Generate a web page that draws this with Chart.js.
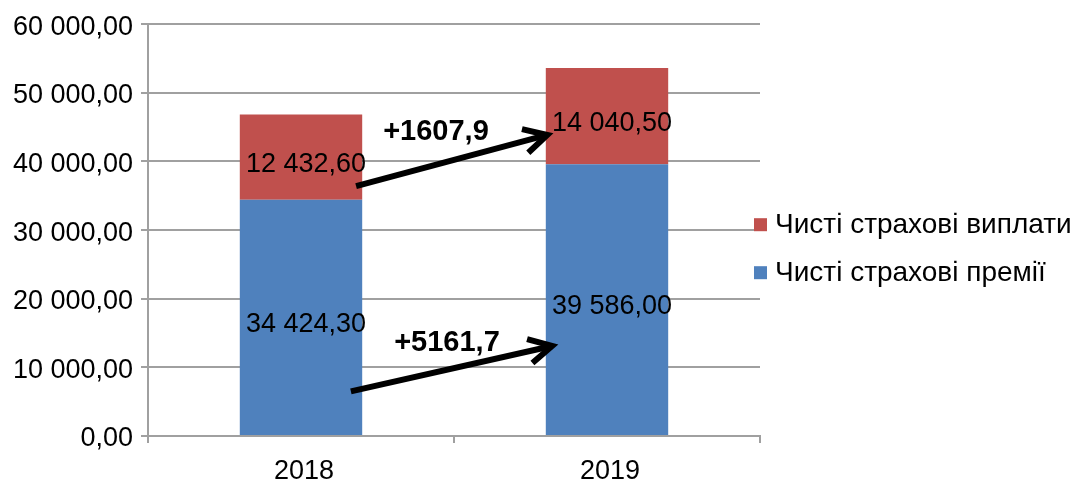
<!DOCTYPE html>
<html>
<head>
<meta charset="utf-8">
<script src="https://cdn.jsdelivr.net/npm/chart.js@4.4.0/dist/chart.umd.min.js"></script>
<style>
html, body { margin: 0; padding: 0; background: #fff; }
#wrap { width: 1074px; height: 482px; }
</style>
</head>
<body>
<div id="wrap"><canvas id="chart" width="1074" height="482"></canvas></div>
<script>
const years = ['2018', '2019'];
const premiums = [34424.3, 39586.0];   // Чисті страхові премії
const payouts = [12432.6, 14040.5];    // Чисті страхові виплати
const yTicks = [0, 10000, 20000, 30000, 40000, 50000, 60000];

// growth arrows drawn between the bars, in axis units [category index, value]
const arrowStart = [[0.18, 36410], [0.163, 6506]];
const arrowEnd = [[0.825, 44100], [0.841, 13320]];
const growthAt = [[0.441, 43120], [0.477, 12385]];

const FONT = '"Liberation Sans", Arial, sans-serif';
const BLUE = '#4f81bd';
const RED = '#c0504d';
const GRID = '#a0a0a0';

function fmt(v) {
    const parts = v.toFixed(2).split('.');
    return parts[0].replace(/\B(?=(\d{3})+(?!\d))/g, ' ') + ',' + parts[1];
}

function growthText(series) {
    return '+' + (series[1] - series[0]).toFixed(1).replace('.', ',');
}

// value labels centred in each stacked segment
const barLabels = {
    id: 'barLabels',
    afterDatasetsDraw(chart) {
        const ctx = chart.ctx;
        ctx.save();
        ctx.font = '27px ' + FONT;
        ctx.fillStyle = '#000';
        ctx.textAlign = 'center';
        ctx.textBaseline = 'alphabetic';
        chart.data.datasets.forEach((ds, i) => {
            chart.getDatasetMeta(i).data.forEach((bar, j) => {
                const mid = (bar.y + bar.base) / 2;
                ctx.fillText(fmt(ds.data[j]), bar.x + 5, mid + 14.5);
            });
        });
        ctx.restore();
    }
};

function drawArrow(ctx, x1, y1, x2, y2) {
    const a = Math.atan2(y2 - y1, x2 - x1);
    const head = 26;
    const spread = 0.49;
    // pull the vertex back so the mitred tip lands on (x2, y2)
    const back = (ctx.lineWidth / 2) / Math.sin(spread);
    const vx = x2 - back * Math.cos(a);
    const vy = y2 - back * Math.sin(a);
    ctx.beginPath();
    ctx.moveTo(x1, y1);
    ctx.lineTo(vx, vy);
    ctx.stroke();
    ctx.beginPath();
    ctx.moveTo(vx - head * Math.cos(a - spread), vy - head * Math.sin(a - spread));
    ctx.lineTo(vx, vy);
    ctx.lineTo(vx - head * Math.cos(a + spread), vy - head * Math.sin(a + spread));
    ctx.stroke();
}

const growthArrows = {
    id: 'growthArrows',
    afterDatasetsDraw(chart) {
        const ctx = chart.ctx;
        const xs = chart.scales.x;
        const ys = chart.scales.y;
        const texts = [growthText(payouts), growthText(premiums)];
        ctx.save();
        ctx.strokeStyle = '#000';
        ctx.lineWidth = 6;
        ctx.lineCap = 'butt';
        ctx.lineJoin = 'miter';
        arrowStart.forEach((s, k) => {
            const e = arrowEnd[k];
            drawArrow(ctx,
                xs.getPixelForValue(s[0]), ys.getPixelForValue(s[1]),
                xs.getPixelForValue(e[0]), ys.getPixelForValue(e[1]));
        });
        ctx.font = 'bold 29px ' + FONT;
        ctx.fillStyle = '#000';
        ctx.textAlign = 'center';
        ctx.textBaseline = 'alphabetic';
        growthAt.forEach((p, k) => {
            ctx.fillText(texts[k], xs.getPixelForValue(p[0]), ys.getPixelForValue(p[1]));
        });
        ctx.restore();
    }
};

// legend on the right, top series first
const sideLegend = {
    id: 'sideLegend',
    afterDraw(chart) {
        const ctx = chart.ctx;
        const area = chart.chartArea;
        const items = chart.data.datasets.slice().reverse();
        ctx.save();
        ctx.font = '28px ' + FONT;
        ctx.textAlign = 'left';
        ctx.textBaseline = 'alphabetic';
        items.forEach((ds, k) => {
            const top = area.top + 194 + k * 48;
            ctx.fillStyle = ds.backgroundColor;
            ctx.fillRect(area.right - 6, top, 13, 13);
            ctx.fillStyle = '#000';
            ctx.fillText(ds.label, area.right + 15, top + 15);
        });
        ctx.restore();
    }
};

const ctx = document.getElementById('chart').getContext('2d');
const chart = new Chart(ctx, {
    type: 'bar',
    data: {
        labels: years,
        datasets: [
            {
                label: 'Чисті страхові премії',
                data: premiums,
                backgroundColor: BLUE,
                categoryPercentage: 1,
                barPercentage: 0.4
            },
            {
                label: 'Чисті страхові виплати',
                data: payouts,
                backgroundColor: RED,
                categoryPercentage: 1,
                barPercentage: 0.4
            }
        ]
    },
    options: {
        responsive: false,
        animation: false,
        events: [],
        layout: { padding: { left: 0, right: 314, top: 24, bottom: 0 } },
        plugins: {
            legend: { display: false },
            tooltip: { enabled: false }
        },
        scales: {
            x: {
                stacked: true,
                afterFit(s) { s.height = 46; },
                ticks: { font: { family: FONT, size: 27 }, color: '#000', padding: 12, labelOffset: 3 },
                grid: { offset: true, drawOnChartArea: false, color: GRID, lineWidth: 2, tickLength: 7 },
                border: { color: GRID, width: 2 }
            },
            y: {
                stacked: true,
                min: 0,
                max: 60000,
                afterFit(s) { s.width = 148; },
                afterBuildTicks(s) { s.ticks = yTicks.map(v => ({ value: v })); },
                ticks: {
                    font: { family: FONT, size: 27 },
                    color: '#000',
                    padding: 8,
                    labelOffset: 3,
                    callback: v => fmt(v)
                },
                grid: { color: GRID, lineWidth: 2, tickLength: 7 },
                border: { color: GRID, width: 2 }
            }
        }
    },
    plugins: [barLabels, growthArrows, sideLegend]
});
</script>
</body>
</html>
